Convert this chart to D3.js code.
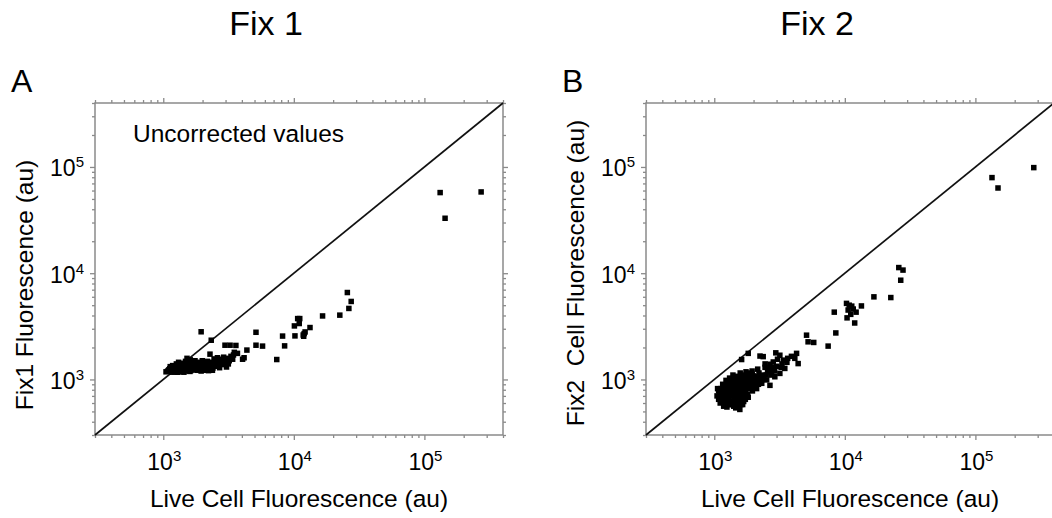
<!DOCTYPE html>
<html>
<head>
<meta charset="utf-8">
<script src="https://cdn.jsdelivr.net/npm/d3@7"></script>
<style>
  body { margin: 0; background: #fff; }
  svg { font-family: "Liberation Sans", Arial, sans-serif; }
  .axis path { display: none; }
  .axis line { stroke: #8a8a8a; stroke-width: 1.3; }
</style>
</head>
<body>
<svg id="chart" width="1052" height="518"></svg>
<script>
// values: [live cell, fixed]
const fix1 = [
  [132000, 57400], [272000, 58200], [144000, 32900],
  [25700, 6580], [27500, 5420], [26400, 4660], [22500, 4030], [16600, 3960], [13300, 3080],
  [10700, 3740], [11100, 3740], [11000, 3360], [10100, 3190], [10200, 2570],
  [11800, 2620], [12000, 2700], [12200, 2800], [11900, 2550],
  [8200, 2560], [8500, 2070], [7400, 1540], [5130, 2780], [5130, 2100], [5760, 2060],
  [4370, 1890], [4160, 1600], [4050, 1550], [3600, 2090], [3250, 2100], [2970, 2100],
  [1950, 2810], [2330, 2340], [2280, 1730],
  [3700, 1760], [3450, 1700], [3300, 1650], [3100, 1580], [2900, 1620], [2750, 1550],
  [2600, 1600], [3000, 1450], [2800, 1380], [3200, 1500], [3500, 1800], [2650, 1470],
  [2500, 1420], [3050, 1310], [2450, 1560],
  [1050, 1180], [1080, 1200], [1100, 1230], [1120, 1260], [1150, 1200], [1170, 1300],
  [1180, 1350], [1200, 1240], [1220, 1180], [1250, 1290], [1260, 1400], [1280, 1220],
  [1300, 1330], [1320, 1250], [1340, 1180], [1360, 1300], [1380, 1420], [1400, 1260],
  [1420, 1200], [1450, 1350], [1470, 1280], [1500, 1220], [1520, 1580], [1540, 1300],
  [1560, 1400], [1580, 1250], [1600, 1190], [1630, 1350], [1650, 1280], [1680, 1450],
  [1700, 1230], [1720, 1320], [1750, 1500], [1780, 1270], [1800, 1380], [1830, 1220],
  [1860, 1300], [1900, 1450], [1930, 1260], [1960, 1340], [2000, 1290], [2050, 1400],
  [2100, 1320], [2150, 1250], [2200, 1370], [2250, 1300], [2300, 1450], [2350, 1330],
  [2400, 1280], [1240, 1330], [1310, 1450], [1390, 1340], [1480, 1480], [1610, 1530],
  [1690, 1360], [1770, 1410], [1880, 1330], [1990, 1500], [2080, 1220], [2180, 1480],
  [1130, 1320], [1190, 1280], [1270, 1170], [1430, 1310], [1550, 1200], [1660, 1240],
  [1850, 1420], [2020, 1350], [2280, 1260], [1330, 1380], [1410, 1230], [1510, 1340],
  [1590, 1310], [1740, 1240], [1920, 1390], [2130, 1420], [2420, 1380],
  [1160, 1170], [1230, 1210], [1290, 1170], [1370, 1220], [1440, 1170], [1530, 1250],
  [1620, 1210], [1710, 1290], [1810, 1250], [1950, 1200], [2060, 1270], [2220, 1210],
  [2380, 1220], [2550, 1330], [2700, 1290], [2850, 1520], [3150, 1400], [3400, 1550]
]

const fix2 = [
  [280000, 98600], [134000, 79400], [149000, 63400],
  [25900, 11300], [27900, 10700], [26800, 8590], [22500, 5900], [16700, 5990], [13400, 4920],
  [10300, 5200], [10800, 5000], [11300, 4900], [10600, 4500], [11600, 4600], [12200, 4300],
  [10400, 3800], [11900, 3400], [11100, 4100],
  [8300, 4300], [8530, 2740], [7450, 2060], [5090, 2610], [5230, 2260], [5780, 2230],
  [4270, 1760], [4140, 1580], [4390, 1410], [3900, 1650], [3650, 1580],
  [2240, 1660], [2370, 1640], [1820, 1760], [1620, 1540],
  [2960, 1780], [3180, 1690], [3390, 1520], [2830, 1460], [2670, 1390], [3000, 1330],
  [3470, 1270], [2670, 1180], [3180, 1140], [2910, 1060], [2520, 990], [2240, 1020],
  [2310, 920], [2670, 880], [2110, 820], [3600, 1450], [2450, 1400], [2600, 1250],
  [2200, 1150], [2800, 1300], [3300, 1400], [2400, 1100],
  [1050, 700], [1080, 650], [1100, 760], [1120, 820], [1130, 690], [1150, 620],
  [1170, 740], [1190, 860], [1200, 680], [1220, 590], [1240, 780], [1260, 900],
  [1270, 720], [1290, 640], [1300, 820], [1320, 950], [1340, 700], [1360, 580],
  [1380, 780], [1400, 880], [1420, 1000], [1430, 660], [1450, 740], [1470, 830],
  [1490, 600], [1500, 940], [1520, 700], [1540, 780], [1560, 1050], [1570, 522],
  [1580, 870], [1600, 640], [1620, 960], [1640, 740], [1660, 820], [1680, 1100],
  [1700, 680], [1720, 900], [1740, 780], [1760, 1000], [1780, 860], [1800, 720],
  [1830, 950], [1850, 1150], [1870, 820], [1900, 1050], [1930, 900], [1960, 780],
  [1990, 1000], [2020, 880], [1110, 600], [1180, 560], [1250, 550], [1330, 620],
  [1410, 560], [1460, 540], [1550, 600], [1650, 580], [1730, 650], [1820, 680],
  [1080, 780], [1160, 900], [1230, 980], [1310, 1030], [1390, 1100], [1480, 1070],
  [1580, 1150], [1690, 1000], [1750, 1180], [1880, 960], [1060, 820], [1140, 720],
  [1210, 820], [1280, 760], [1350, 860], [1440, 920], [1530, 860], [1610, 780],
  [1710, 840], [1790, 940], [1950, 1120], [2050, 1000],
  [1100, 660], [1150, 780], [1180, 650], [1230, 700], [1250, 860], [1300, 700],
  [1310, 900], [1340, 780], [1370, 960], [1390, 700], [1410, 800], [1450, 990],
  [1470, 670], [1500, 820], [1520, 1000], [1540, 660], [1570, 720], [1590, 960],
  [1630, 870], [1650, 1060], [1670, 700], [1700, 950], [1720, 760], [1750, 880],
  [1770, 1060], [1810, 820], [1840, 1000], [1860, 900], [1890, 1100], [1920, 840],
  [1980, 920], [2000, 1080], [2070, 950], [2100, 1060], [2150, 1000], [2180, 900],
  [2280, 1080], [2350, 1000], [2500, 1100], [2560, 1200], [2750, 1100], [2900, 1200],
  [3050, 1550], [3250, 1300], [2450, 1300], [2150, 1250], [1950, 1200], [1280, 580],
  [1380, 620], [1480, 580], [1600, 580], [1680, 620], [1200, 620], [1130, 740]
]

const domain = [300, 400000]
const majorTicks = [1e3, 1e4, 1e5]
const exponents = ['3', '4', '5']

const panels = [
  {letter: 'A', title: 'Fix 1', ylab: 'Fix1 Fluorescence (au)', data: fix1, left: 95, ylabY: 285, note: 'Uncorrected values'},
  {letter: 'B', title: 'Fix 2', ylab: 'Fix2  Cell Fluorescence (au)', data: fix2, left: 646, ylabY: 273}
]

const W = 408, plotTop = 103, plotBottom = 435
const svg = d3.select('#chart')

panels.forEach(p => {
  const x = d3.scaleLog().domain(domain).range([p.left, p.left + W])
  const y = d3.scaleLog().domain(domain).range([plotBottom, plotTop])
  const minorX = x.ticks().filter(t => !majorTicks.includes(t))
  const minorY = y.ticks().filter(t => !majorTicks.includes(t))
  const g = svg.append('g')

  // ticks on all four sides, pointing outward
  const sides = [
    [() => d3.axisBottom(x), minorX, `translate(0,${plotBottom})`],
    [() => d3.axisTop(x), minorX, `translate(0,${plotTop})`],
    [() => d3.axisLeft(y), minorY, `translate(${p.left},0)`],
    [() => d3.axisRight(y), minorY, `translate(${p.left + W},0)`]
  ]
  sides.forEach(([mk, minor, tr]) => {
    g.append('g').attr('class', 'axis').attr('transform', tr)
      .call(mk().tickValues(minor).tickSize(3).tickFormat(''))
    g.append('g').attr('class', 'axis').attr('transform', tr)
      .call(mk().tickValues(majorTicks).tickSize(5).tickFormat(''))
  })

  // frame
  g.append('rect')
    .attr('x', p.left).attr('y', plotTop)
    .attr('width', W).attr('height', plotBottom - plotTop)
    .attr('fill', 'none').attr('stroke', '#8a8a8a').attr('stroke-width', 1.5)

  // tick labels 10^n
  const xl = g.selectAll('.xl').data(majorTicks).join('text')
    .attr('class', 'xl')
    .attr('x', d => x(d) + 1).attr('y', 470)
    .attr('text-anchor', 'middle').attr('font-size', 23)
  xl.append('tspan').text('10')
  xl.append('tspan').attr('dy', -9).attr('font-size', 15).text((d, i) => exponents[i])

  const yl = g.selectAll('.yl').data(majorTicks).join('text')
    .attr('class', 'yl')
    .attr('x', p.left - 11).attr('y', d => y(d) + 9.5)
    .attr('text-anchor', 'end').attr('font-size', 23)
  yl.append('tspan').text('10')
  yl.append('tspan').attr('dy', -9).attr('font-size', 15).text((d, i) => exponents[i])

  // identity line
  g.append('line')
    .attr('x1', x(domain[0])).attr('y1', y(domain[0]))
    .attr('x2', x(domain[1])).attr('y2', y(domain[1]))
    .attr('stroke', '#111').attr('stroke-width', 1.7)

  // points
  g.selectAll('.pt').data(p.data).join('rect')
    .attr('class', 'pt')
    .attr('x', d => x(d[0]) - 2.75).attr('y', d => y(d[1]) - 2.75)
    .attr('width', 5.5).attr('height', 5.5).attr('fill', '#000')

  // labels
  g.append('text').attr('x', p.left + W / 2).attr('y', 507)
    .attr('text-anchor', 'middle').attr('font-size', 24.5)
    .text('Live Cell Fluorescence (au)')
  g.append('text')
    .attr('transform', `translate(${p.left - 62},${p.ylabY}) rotate(-90)`)
    .attr('text-anchor', 'middle').attr('font-size', 24.5)
    .style('white-space', 'pre')
    .text(p.ylab)
  g.append('text').attr('x', p.left + W / 2 - 33).attr('y', 35)
    .attr('text-anchor', 'middle').attr('font-size', 34)
    .text(p.title)
  g.append('text').attr('x', p.left - 84).attr('y', 92)
    .attr('font-size', 32)
    .text(p.letter)
  if (p.note) {
    g.append('text').attr('x', p.left + 38).attr('y', 142)
      .attr('font-size', 24.5)
      .text(p.note)
  }
})
</script>
</body>
</html>
